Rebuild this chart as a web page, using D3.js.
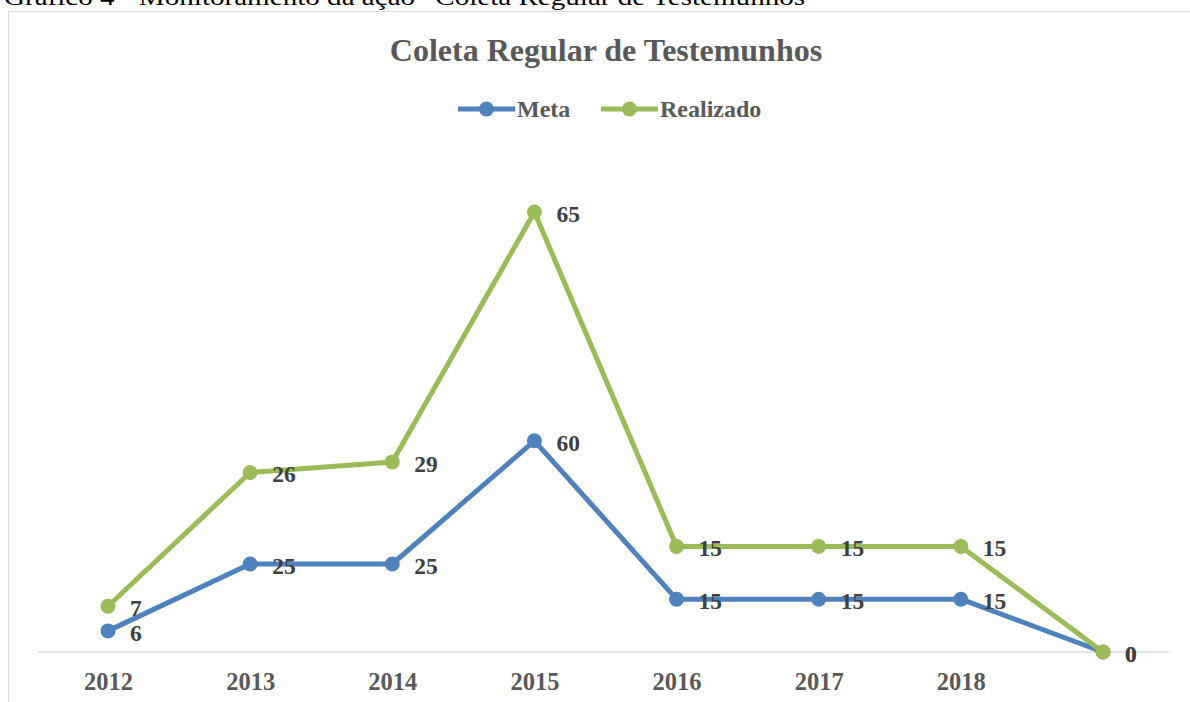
<!DOCTYPE html>
<html>
<head>
<meta charset="utf-8">
<script src="https://cdn.jsdelivr.net/npm/d3@7"></script>
<style>
  html, body { margin: 0; padding: 0; background: #fff; }
  svg { display: block; }
  text { font-family: "Liberation Serif", "DejaVu Serif", serif; }
</style>
</head>
<body>
<svg id="chart" width="1190" height="702"></svg>
<script>
// ---- data ----
const categories = ["2012", "2013", "2014", "2015", "2016", "2017", "2018", ""];
const metaValues = [6, 25, 25, 60, 15, 15, 15, 0];
const realizadoValues = [7, 26, 29, 65, 15, 15, 15, 0];
const seriesNames = ["Meta", "Realizado"];
const pageCaption = "Gráfico 4 - Monitoramento da ação \u201cColeta Regular de Testemunhos\u201d";
const chartTitle = "Coleta Regular de Testemunhos";

const colors = { Meta: "#4f81bd", Realizado: "#9bbb59" };

const svg = d3.select("#chart");

// page caption (partly clipped at top, as in the source page)
svg.append("text")
  .attr("x", 4).attr("y", 5)
  .attr("font-size", 23).attr("fill", "#000")
  .attr("textLength", 814).attr("lengthAdjust", "spacingAndGlyphs")
  .text(pageCaption);

// chart border
svg.append("rect")
  .attr("x", 8.5).attr("y", 11.5)
  .attr("width", 1200).attr("height", 720)
  .attr("fill", "#fff").attr("stroke", "#d9d9d9").attr("stroke-width", 1);

// title
svg.append("text")
  .attr("x", 606).attr("y", 61)
  .attr("text-anchor", "middle")
  .attr("font-size", 32).attr("font-weight", "bold").attr("fill", "#595959")
  .text(chartTitle);

// scales
const x = d3.scalePoint().domain(d3.range(categories.length)).range([108, 1103]);
const y = d3.scaleLinear().domain([0, 125]).range([652, 212]);

// stacked data (stacked line chart)
const stacked = d3.stack().keys(seriesNames)(
  categories.map((c, i) => ({ i, Meta: metaValues[i], Realizado: realizadoValues[i] }))
);

// x axis line
svg.append("line")
  .attr("x1", 38).attr("x2", 1169)
  .attr("y1", y(0)).attr("y2", y(0))
  .attr("stroke", "#d9d9d9").attr("stroke-width", 1.5);

// x axis labels
const xAxis = d3.axisBottom(x).tickSize(0).tickPadding(0).tickFormat(i => categories[i]);
const gx = svg.append("g").attr("transform", `translate(0,${y(0)})`).call(xAxis);
gx.select(".domain").remove();
gx.selectAll("text")
  .attr("y", 38).attr("dy", null)
  .attr("font-family", "Liberation Serif, serif")
  .attr("font-size", 24.5).attr("font-weight", "bold").attr("fill", "#595959");

const line = d3.line().x(d => x(d.data.i)).y(d => y(d[1]));

// draw series: Meta first then Realizado on top
stacked.forEach(s => {
  const name = s.key;
  svg.append("path").datum(s)
    .attr("d", line)
    .attr("fill", "none").attr("stroke", colors[name])
    .attr("stroke-width", 5).attr("stroke-linejoin", "round");
  svg.selectAll(null).data(s).enter().append("circle")
    .attr("cx", d => x(d.data.i)).attr("cy", d => y(d[1]))
    .attr("r", 7.5).attr("fill", colors[name]);
});

// data labels
stacked.forEach(s => {
  const name = s.key;
  svg.selectAll(null).data(s).enter().append("text")
    .attr("x", d => x(d.data.i) + 22)
    .attr("y", d => y(d[1]) + 10)
    .attr("font-size", 23.5).attr("font-weight", "bold").attr("fill", "#404040")
    .text(d => d.data[name]);
});

// legend
const legendItems = [
  { name: "Meta", x: 458 },
  { name: "Realizado", x: 601 }
];
legendItems.forEach(it => {
  const g = svg.append("g").attr("transform", `translate(${it.x},109)`);
  g.append("line").attr("x1", 0).attr("x2", 57).attr("y1", 0).attr("y2", 0)
    .attr("stroke", colors[it.name]).attr("stroke-width", 5);
  g.append("circle").attr("cx", 28.5).attr("cy", 0).attr("r", 7.5).attr("fill", colors[it.name]);
  g.append("text").attr("x", 59).attr("y", 8)
    .attr("font-size", 24).attr("font-weight", "bold").attr("fill", "#595959")
    .text(it.name);
});
</script>
</body>
</html>
